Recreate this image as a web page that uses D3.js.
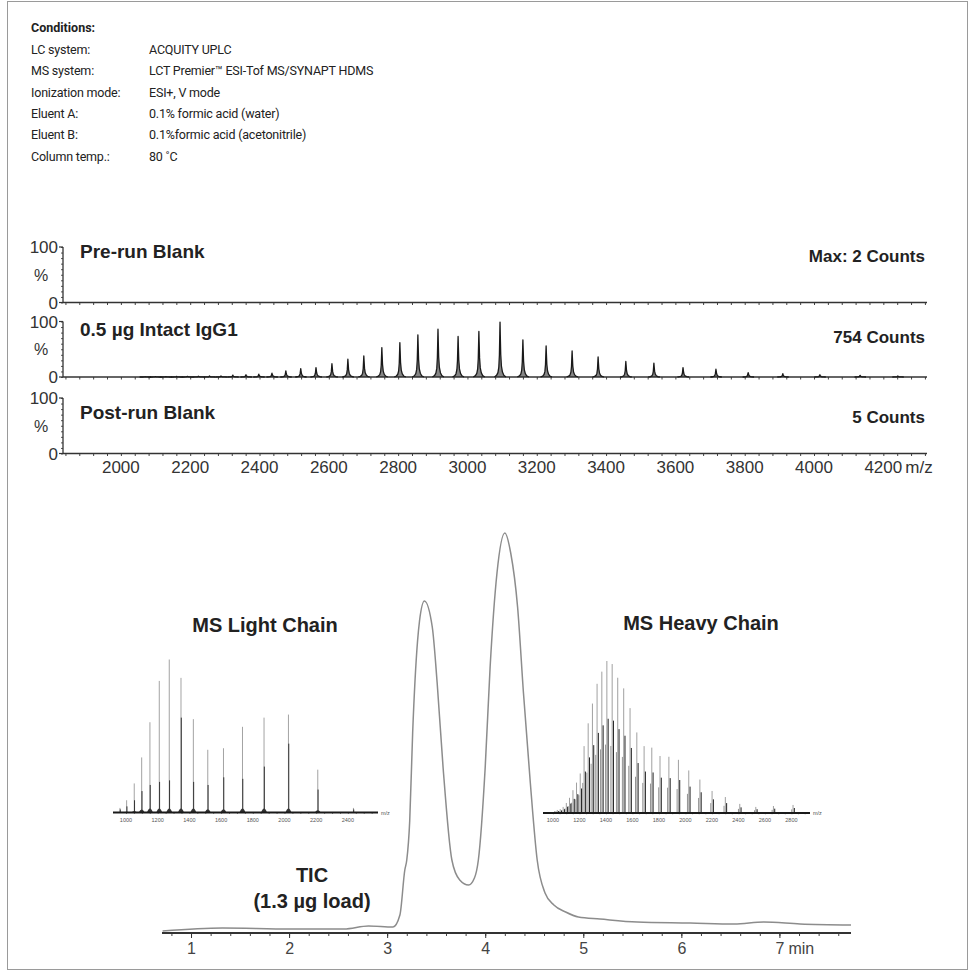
<!DOCTYPE html>
<html>
<head>
<meta charset="utf-8">
<script src="https://cdn.jsdelivr.net/npm/d3@7"></script>
<style>
body { margin: 0; background: #fff; }
</style>
</head>
<body>
<div id="my_dataviz"></div>
<script>
// ---- data ----
var conditionLabels = ["LC system:", "MS system:", "Ionization mode:", "Eluent A:", "Eluent B:", "Column temp.:"];
var conditionValues = ["ACQUITY UPLC", "LCT Premier\u2122 ESI-Tof MS/SYNAPT HDMS", "ESI+, V mode",
    "0.1% formic acid (water)", "0.1%formic acid (acetonitrile)", "80 \u02daC"];

var panelTitles = ["Pre-run Blank", "0.5 \u00b5g Intact IgG1", "Post-run Blank"];
var panelCounts = ["Max: 2 Counts", "754 Counts", "5 Counts"];
var mzTicks = [2000, 2200, 2400, 2600, 2800, 3000, 3200, 3400, 3600, 3800, 4000, 4200];

// intact IgG1 charge envelope (m/z, % intensity)
var iggMz = [2070, 2100, 2130, 2161, 2192, 2224, 2256, 2289, 2323, 2361, 2398, 2436, 2476, 2519, 2563,
    2609, 2655, 2701, 2753, 2805, 2857, 2915, 2973, 3033, 3094, 3160, 3227, 3302, 3377, 3457, 3538,
    3622, 3717, 3810, 3910, 4017, 4133, 4242];
var iggInt = [0.5, 0.6, 0.8, 1, 1.2, 1.5, 2, 2, 3.5, 4, 5, 7, 11, 15, 17,
    24, 32, 38, 53, 62, 76, 86, 73, 82, 99, 67, 56, 47, 36, 28, 25,
    17, 14, 8, 6, 4, 3, 2];

// light chain inset
var lcMz = [962, 1004, 1052, 1099, 1151, 1210, 1273, 1347, 1425, 1516, 1615, 1735, 1871, 2025, 2210, 2435];
var lcInt = [3, 8, 19, 36, 59, 86, 100, 88, 61, 41, 42, 56, 62, 64, 28, 3];
var lcCore = [2, 4, 8, 14, 18, 20, 21, 62, 20, 18, 23, 22, 30, 45, 15, 2];
var lcTicks = [1000, 1200, 1400, 1600, 1800, 2000, 2200, 2400];

// heavy chain inset
var hcMz = [1013, 1033, 1055, 1077, 1101, 1125, 1151, 1178, 1206, 1235, 1266, 1298, 1333, 1369, 1407,
    1447, 1489, 1534, 1582, 1633, 1688, 1746, 1808, 1875, 1947, 2025, 2109, 2201, 2301, 2410, 2531, 2664, 2812];
var hcInt = [1.3, 2, 2.6, 4, 6.6, 10, 15, 20, 26, 44, 59, 72, 85, 93, 100,
    98, 89, 82, 69, 53, 44, 43, 37.5, 37, 35, 28, 22, 14.5, 10.5, 6, 4, 4.6, 5.3];
var hcTicks = [1000, 1200, 1400, 1600, 1800, 2000, 2200, 2400, 2600, 2800];

// total ion chromatogram
var ticTime = [0.71, 1.32, 2.01, 2.56, 2.81, 3.06, 3.13, 3.18, 3.20, 3.23, 3.26, 3.31, 3.33, 3.38, 3.46,
    3.51, 3.57, 3.66, 3.74, 3.83, 3.89, 3.93, 4.00, 4.05, 4.12, 4.20, 4.26, 4.33, 4.39, 4.46, 4.53,
    4.61, 4.70, 4.82, 4.95, 5.17, 5.55, 6.09, 6.54, 6.84, 7.21, 7.73];
var ticInt = [0.5, 1.25, 1, 1, 1.75, 1.5, 4.5, 15.75, 18.25, 28, 50, 73, 78, 83, 76.5,
    62.5, 41.5, 18.25, 13.25, 12, 13.75, 18.25, 41.5, 66.5, 90, 100, 95, 81.5, 60, 37.5, 18.25,
    10, 7, 5.25, 4, 3.5, 2.75, 2.5, 2.25, 2.75, 2.25, 2];
var ticTicks = [1, 2, 3, 4, 5, 6, 7];

var arial = "'Liberation Sans', Arial, sans-serif";
var condensed = "Roboto, 'Noto Sans', sans-serif";

var svg = d3.select("#my_dataviz")
    .append("svg")
    .attr("width", 975)
    .attr("height", 977);

svg.append("rect")
    .attr("x", 7.5).attr("y", 1.5)
    .attr("width", 960).attr("height", 968)
    .attr("fill", "none")
    .attr("stroke", "#9a9a9a");

drawConditions();
drawSpectra();
drawTic();
drawInset(lcMz, lcInt, lcCore, lcTicks, [918, 2590], [113, 378], 812.5, 153, "light");
drawInset(hcMz, hcInt, null, hcTicks, [925, 2940], [543, 810], 813, 152, "heavy");

function drawConditions() {
    svg.append("text")
        .attr("x", 31).attr("y", 32)
        .style("font-family", condensed)
        .style("font-size", "12.5px")
        .style("font-weight", "bold")
        .style("fill", "#222")
        .text("Conditions:");

    conditionLabels.forEach(function(d, i) {
        var y = 54 + i * 21.3;
        svg.append("text")
            .attr("x", 31).attr("y", y)
            .style("font-family", condensed)
            .style("font-size", "12.5px")
            .style("letter-spacing", "-0.2px")
            .style("fill", "#222")
            .text(d);
        svg.append("text")
            .attr("x", 149).attr("y", y)
            .style("font-family", condensed)
            .style("font-size", "12.5px")
            .style("letter-spacing", "-0.2px")
            .style("fill", "#222")
            .text(conditionValues[i]);
    });
}

function drawSpectra() {
    var x = d3.scaleLinear().domain([1833, 4326]).range([63, 927]);
    var tops = [247, 321.5, 398];
    var h = 55.5;

    // peak profile: offset in m/z, fraction of height
    var shape = [[-16, 0], [-10, 0.03], [-6, 0.08], [-3.5, 0.18], [-1.8, 0.4], [-0.6, 0.8], [0, 1],
        [0.7, 0.78], [2, 0.42], [4, 0.2], [7, 0.09], [11, 0.03], [17, 0]];

    tops.forEach(function(top, p) {
        var y = d3.scaleLinear().domain([0, 100]).range([top + h, top]);

        // y axis
        var ya = svg.append("g")
            .attr("transform", "translate(63,0)")
            .call(d3.axisLeft(y).tickValues(d3.range(0, 101, 10)).tickSize(2).tickFormat(""));
        ya.select(".domain").remove();
        ya.selectAll("line").attr("stroke", "#555");
        svg.append("line")
            .attr("x1", 63).attr("x2", 63)
            .attr("y1", y(100)).attr("y2", y(0))
            .attr("stroke", "#333").attr("stroke-width", 1.3);
        svg.append("line")
            .attr("x1", 59).attr("x2", 63)
            .attr("y1", y(100)).attr("y2", y(100))
            .attr("stroke", "#333").attr("stroke-width", 1.2);
        svg.append("line")
            .attr("x1", 59).attr("x2", 63)
            .attr("y1", y(0)).attr("y2", y(0))
            .attr("stroke", "#333").attr("stroke-width", 1.2);

        svg.append("text")
            .attr("x", 58).attr("y", y(100) + 6)
            .attr("text-anchor", "end")
            .style("font-family", arial).style("font-size", "17px").style("fill", "#333")
            .text("100");
        svg.append("text")
            .attr("x", 41).attr("y", y(50) + 6)
            .attr("text-anchor", "middle")
            .style("font-family", arial).style("font-size", "16px").style("fill", "#333")
            .text("%");
        svg.append("text")
            .attr("x", 58).attr("y", y(0) + 6)
            .attr("text-anchor", "end")
            .style("font-family", arial).style("font-size", "17px").style("fill", "#333")
            .text("0");

        // x baseline with minor ticks
        var xa = svg.append("g")
            .attr("transform", "translate(0," + y(0) + ")")
            .call(d3.axisBottom(x).tickValues(d3.range(1840, 4326, 40)).tickSize(2.5).tickFormat(""));
        xa.select(".domain").remove();
        xa.selectAll("line").attr("stroke", "#444");
        svg.append("line")
            .attr("x1", x(1833)).attr("x2", x(4326))
            .attr("y1", y(0)).attr("y2", y(0))
            .attr("stroke", "#333").attr("stroke-width", 1.3);

        svg.append("text")
            .attr("x", 80).attr("y", [258, 336, 419][p])
            .style("font-family", arial).style("font-size", "19px").style("font-weight", "bold")
            .style("fill", "#222")
            .text(panelTitles[p]);
        svg.append("text")
            .attr("x", 925).attr("y", [262, 343, 423][p])
            .attr("text-anchor", "end")
            .style("font-family", arial).style("font-size", "17px").style("font-weight", "bold")
            .style("fill", "#222")
            .text(panelCounts[p]);

        if (p === 1) {
            var line = d3.line()
                .x(function(d) { return d[0]; })
                .y(function(d) { return d[1]; });
            svg.selectAll("path.igg")
                .data(iggMz)
                .enter()
                .append("path")
                .attr("class", "igg")
                .attr("d", function(m, i) {
                    return line(shape.map(function(s) { return [x(m + s[0]), y(iggInt[i] * s[1])]; }));
                })
                .attr("fill", "#222")
                .attr("fill-opacity", 0.55)
                .attr("stroke", "#1a1a1a")
                .attr("stroke-width", 1.3)
                .attr("stroke-linejoin", "round");
        }

        if (p === 2) {
            svg.selectAll("text.mz")
                .data(mzTicks)
                .enter()
                .append("text")
                .attr("class", "mz")
                .attr("x", function(d) { return x(d); })
                .attr("y", y(0) + 19)
                .attr("text-anchor", "middle")
                .style("font-family", arial).style("font-size", "17px").style("fill", "#333")
                .text(function(d) { return d; });
            svg.append("text")
                .attr("x", x(4200) + 22).attr("y", y(0) + 19)
                .style("font-family", arial).style("font-size", "17px").style("fill", "#333")
                .text("m/z");
        }
    });
}

function drawTic() {
    var x = d3.scaleLinear().domain([0.704, 7.73]).range([162, 851]);
    var y = d3.scaleLinear().domain([0, 100]).range([933, 533]);

    var xa = svg.append("g")
        .attr("transform", "translate(0,933)")
        .call(d3.axisBottom(x).tickValues(d3.range(0.8, 7.73, 0.2)).tickSize(3).tickFormat(""));
    xa.select(".domain").remove();
    xa.selectAll("line").attr("stroke", "#444");

    var xb = svg.append("g")
        .attr("transform", "translate(0,933)")
        .call(d3.axisBottom(x).tickValues(ticTicks).tickSize(5).tickPadding(5).tickFormat(d3.format("d")));
    xb.select(".domain").remove();
    xb.selectAll("line").attr("stroke", "#333");
    xb.selectAll("text")
        .style("font-family", arial).style("font-size", "16px").style("fill", "#444");

    svg.append("line")
        .attr("x1", x(0.704)).attr("x2", x(7.73))
        .attr("y1", 933).attr("y2", 933)
        .attr("stroke", "#333").attr("stroke-width", 1.8);

    svg.append("text")
        .attr("x", x(7) + 9).attr("y", 954)
        .style("font-family", arial).style("font-size", "16px").style("fill", "#444")
        .text("min");

    var line = d3.line()
        .x(function(d, i) { return x(d); })
        .y(function(d, i) { return y(ticInt[i]); })
        .curve(d3.curveMonotoneX);

    svg.append("path")
        .datum(ticTime)
        .attr("d", line)
        .attr("fill", "none")
        .attr("stroke", "#8c8c8c")
        .attr("stroke-width", 1.5);

    svg.append("text")
        .attr("x", 312).attr("y", 882)
        .attr("text-anchor", "middle")
        .style("font-family", arial).style("font-size", "20px").style("font-weight", "bold")
        .style("fill", "#222")
        .text("TIC");
    svg.append("text")
        .attr("x", 312).attr("y", 908)
        .attr("text-anchor", "middle")
        .style("font-family", arial).style("font-size", "20px").style("font-weight", "bold")
        .style("fill", "#222")
        .text("(1.3 \u00b5g load)");

    svg.append("text")
        .attr("x", 265).attr("y", 632)
        .attr("text-anchor", "middle")
        .style("font-family", arial).style("font-size", "20px").style("font-weight", "bold")
        .style("fill", "#222")
        .text("MS Light Chain");
    svg.append("text")
        .attr("x", 701).attr("y", 630)
        .attr("text-anchor", "middle")
        .style("font-family", arial).style("font-size", "20px").style("font-weight", "bold")
        .style("fill", "#222")
        .text("MS Heavy Chain");
}

function drawInset(mz, inten, core, ticks, domain, range, base, hgt, kind) {
    var x = d3.scaleLinear().domain(domain).range(range);
    var y = d3.scaleLinear().domain([0, 100]).range([base, base - hgt]);
    var g = svg.append("g");

    if (kind === "heavy") {
        g.selectAll("line.g1")
            .data(mz).enter().append("line")
            .attr("x1", function(d) { return x(d) - 1.3; })
            .attr("x2", function(d) { return x(d) - 1.3; })
            .attr("y1", y(0))
            .attr("y2", function(d, i) { return y(inten[i] * 0.45); })
            .attr("stroke", "#888").attr("stroke-width", 0.9);
        g.selectAll("line.g2")
            .data(mz).enter().append("line")
            .attr("x1", function(d) { return x(d); })
            .attr("x2", function(d) { return x(d); })
            .attr("y1", y(0))
            .attr("y2", function(d, i) { return y(inten[i]); })
            .attr("stroke", "#a0a0a0").attr("stroke-width", 1);
        g.selectAll("line.g3")
            .data(mz).enter().append("line")
            .attr("x1", function(d) { return x(d) + 1.3; })
            .attr("x2", function(d) { return x(d) + 1.3; })
            .attr("y1", y(0))
            .attr("y2", function(d, i) { return y(inten[i] * 0.62); })
            .attr("stroke", "#222").attr("stroke-width", 1);
    } else {
        g.selectAll("line.g2")
            .data(mz).enter().append("line")
            .attr("x1", function(d) { return x(d); })
            .attr("x2", function(d) { return x(d); })
            .attr("y1", y(0))
            .attr("y2", function(d, i) { return y(inten[i]); })
            .attr("stroke", "#a3a3a3").attr("stroke-width", 1);
        g.selectAll("line.g3")
            .data(mz).enter().append("line")
            .attr("x1", function(d) { return x(d) + 0.3; })
            .attr("x2", function(d) { return x(d) + 0.3; })
            .attr("y1", y(0))
            .attr("y2", function(d, i) { return y(core[i]); })
            .attr("stroke", "#333").attr("stroke-width", 1);
        g.selectAll("path.bump")
            .data(mz).enter().append("path")
            .attr("d", function(d, i) {
                var b = Math.min(4, inten[i] * 0.08);
                return "M" + (x(d) - 3) + "," + y(0) + "Q" + x(d) + "," + (y(0) - b * 2) + " " + (x(d) + 3) + "," + y(0);
            })
            .attr("fill", "#333");
    }

    var xa = g.append("g")
        .attr("transform", "translate(0," + base + ")")
        .call(d3.axisBottom(x).tickValues(d3.range(1000, domain[1], 50)).tickSize(1.2).tickFormat(""));
    xa.select(".domain").remove();
    xa.selectAll("line").attr("stroke", "#555");

    g.append("line")
        .attr("x1", range[0]).attr("x2", range[1])
        .attr("y1", base).attr("y2", base)
        .attr("stroke", "#1a1a1a").attr("stroke-width", 2);

    g.selectAll("text.tk")
        .data(ticks).enter().append("text")
        .attr("class", "tk")
        .attr("x", function(d) { return x(d); })
        .attr("y", base + 9)
        .attr("text-anchor", "middle")
        .style("font-family", arial).style("font-size", "5.5px").style("fill", "#555")
        .text(function(d) { return d; });
    g.append("text")
        .attr("x", range[1] + 3).attr("y", base + 2)
        .style("font-family", arial).style("font-size", "5.5px").style("fill", "#555")
        .text("m/z");
}
</script>
</body>
</html>
